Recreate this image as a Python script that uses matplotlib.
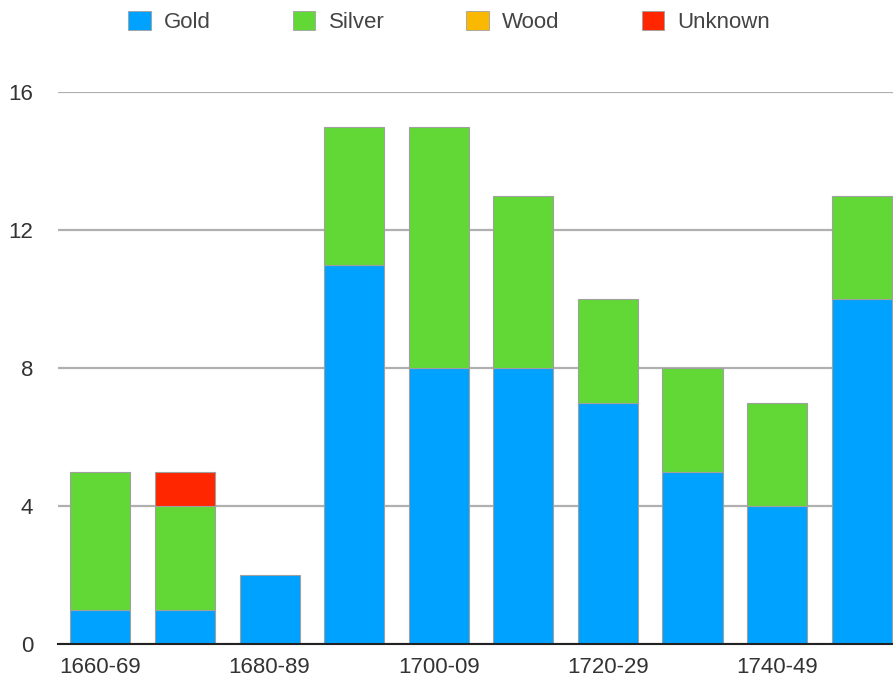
import matplotlib.pyplot as plt
import numpy as np
from matplotlib.patches import Patch

# Data
decades = ["1660-69", "1670-79", "1680-89", "1690-99", "1700-09",
           "1710-19", "1720-29", "1730-39", "1740-49", "1750-59"]
gold = [1, 1, 2, 11, 8, 8, 7, 5, 4, 10]
silver = [4, 3, 0, 4, 7, 5, 3, 3, 3, 3]
wood = [0, 0, 0, 0, 0, 0, 0, 0, 0, 0]
unknown = [0, 1, 0, 0, 0, 0, 0, 0, 0, 0]

series_names = ["Gold", "Silver", "Wood", "Unknown"]
colors = ["#00a2ff", "#61d836", "#fbb800", "#ff2600"]

plt.rcParams['font.family'] = ['Liberation Sans', 'DejaVu Sans']

fig = plt.figure(figsize=(8.93, 6.81), dpi=100)
ax = fig.add_axes([0.065, 0.0543, 0.935, 0.8106])

x = np.arange(len(decades))
width = 0.71
bottom = np.zeros(len(decades))
for vals, col in zip([gold, silver, wood, unknown], colors):
    vals = np.array(vals, dtype=float)
    mask = vals > 0
    ax.bar(x[mask], vals[mask], width, bottom=bottom[mask], color=col,
           edgecolor="#a0a0a0", linewidth=0.8, zorder=3)
    bottom += vals

ax.set_ylim(0, 16)
ax.set_xlim(-0.5, 9.37)
ax.set_yticks([0, 4, 8, 12, 16])
ax.yaxis.grid(True, color="#b0b0b0", linewidth=1.6, zorder=0)
ax.set_xticks(x[::2])
ax.set_xticklabels(decades[::2])
ax.tick_params(axis="both", length=0, labelsize=16, colors="#333333")
ax.tick_params(axis="y", pad=18)
ax.tick_params(axis="x", pad=9)

for side in ["top", "right", "left"]:
    ax.spines[side].set_visible(False)
ax.spines["bottom"].set_color("#222222")
ax.spines["bottom"].set_linewidth(1.5)
ax.spines["bottom"].set_zorder(4)

handles = [Patch(facecolor=c, edgecolor="#a0a0a0", linewidth=0.6) for c in colors]
fig.legend(handles, series_names, loc="center", bbox_to_anchor=(0.503, 0.968),
           ncol=4, frameon=False, fontsize=16, handlelength=1.0, handleheight=1.0,
           columnspacing=3.7, handletextpad=0.6, labelcolor="#444444")

fig.savefig("out.png", dpi=100)
